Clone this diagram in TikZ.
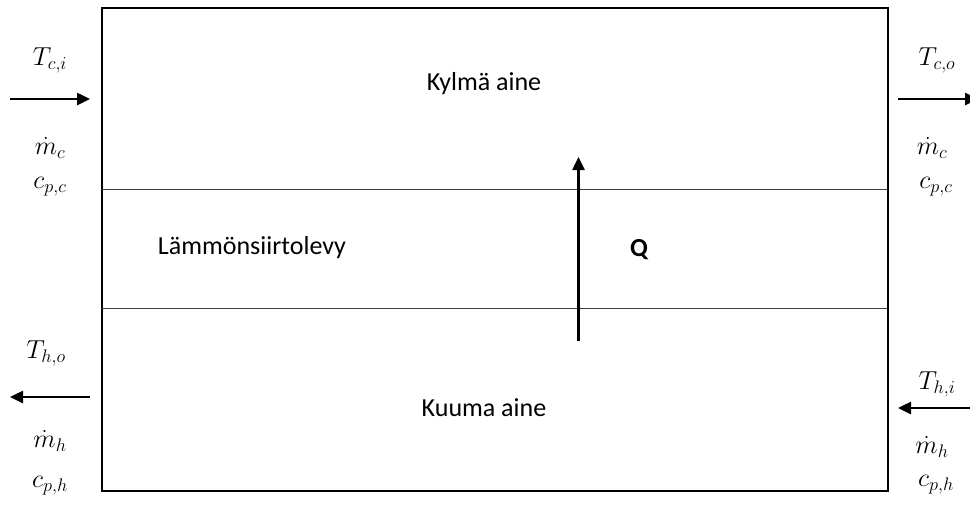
\RequirePackage{fix-cm}
\documentclass[tikz,border=0pt]{standalone}
\usepackage{fontspec}
\setmainfont{Carlito}
\usetikzlibrary{arrows.meta}
\tikzset{
  frame/.style={draw=black, line width=2pt},
  divider/.style={draw=black!75, line width=1pt},
  flow/.style={line width=2.5pt, -{Triangle[length=13pt,width=12pt]}},
  lbl/.style={font=\fontsize{26}{30}\selectfont, inner sep=0pt},
  sym/.style={font=\fontsize{26}{30}\selectfont, inner sep=0pt},
}
\begin{document}
\begin{tikzpicture}[x=1pt, y=-1pt]
\useasboundingbox (0,0) rectangle (970,507);
% exchanger body and the plate between the two streams
\draw[frame] (101.5,8) rectangle (888,490.5);
\coordinate (d1l) at (102,189);
\coordinate (d1r) at (887,189);
\coordinate (d2l) at (102,308);
\coordinate (d2r) at (887,308);
\draw[divider] (d1l) -- (d1r);
\draw[divider] (d2l) -- (d2r);
% region labels
\node[lbl] (cold) at (484,84) {Kylmä aine};
\node[lbl] (plate) at (252,248) {Lämmönsiirtolevy};
\node[lbl] (hot) at (484,408) {Kuuma aine};
\node[lbl, font=\fontsize{26}{30}\selectfont\bfseries] (q) at (639,250) {Q};
% heat flow through the plate
\coordinate (qs) at (578.5,341);
\coordinate (qe) at (578.5,157);
\draw[flow] (qs) -- (qe);
% cold stream in / out
\node[sym] (tci) at (50,60) {$T_{c,i}$};
\node[sym] (mci) at (50,148) {$\dot m_c$};
\node[sym] (cci) at (50,187) {$c_{p,c}$};
\coordinate (ci0) at (10,99);
\coordinate (ci1) at (90,99);
\draw[flow] (ci0) -- (ci1);
\node[sym] (tco) at (937,60) {$T_{c,o}$};
\node[sym] (mco) at (932,148) {$\dot m_c$};
\node[sym] (cco) at (936,187) {$c_{p,c}$};
\coordinate (co0) at (898,99);
\coordinate (co1) at (978,99);
\draw[flow] (co0) -- (co1);
% hot stream in / out
\node[sym] (tho) at (46,353) {$T_{h,o}$};
\node[sym] (mho) at (50,441) {$\dot m_h$};
\node[sym] (cho) at (50,486) {$c_{p,h}$};
\coordinate (ho0) at (90,397);
\coordinate (ho1) at (10,397);
\draw[flow] (ho0) -- (ho1);
\node[sym] (thi) at (937,384) {$T_{h,i}$};
\node[sym] (mhi) at (932,447) {$\dot m_h$};
\node[sym] (chi) at (936,485) {$c_{p,h}$};
\coordinate (hi0) at (975,408);
\coordinate (hi1) at (898,408);
\draw[flow] (hi0) -- (hi1);
\end{tikzpicture}
\end{document}
